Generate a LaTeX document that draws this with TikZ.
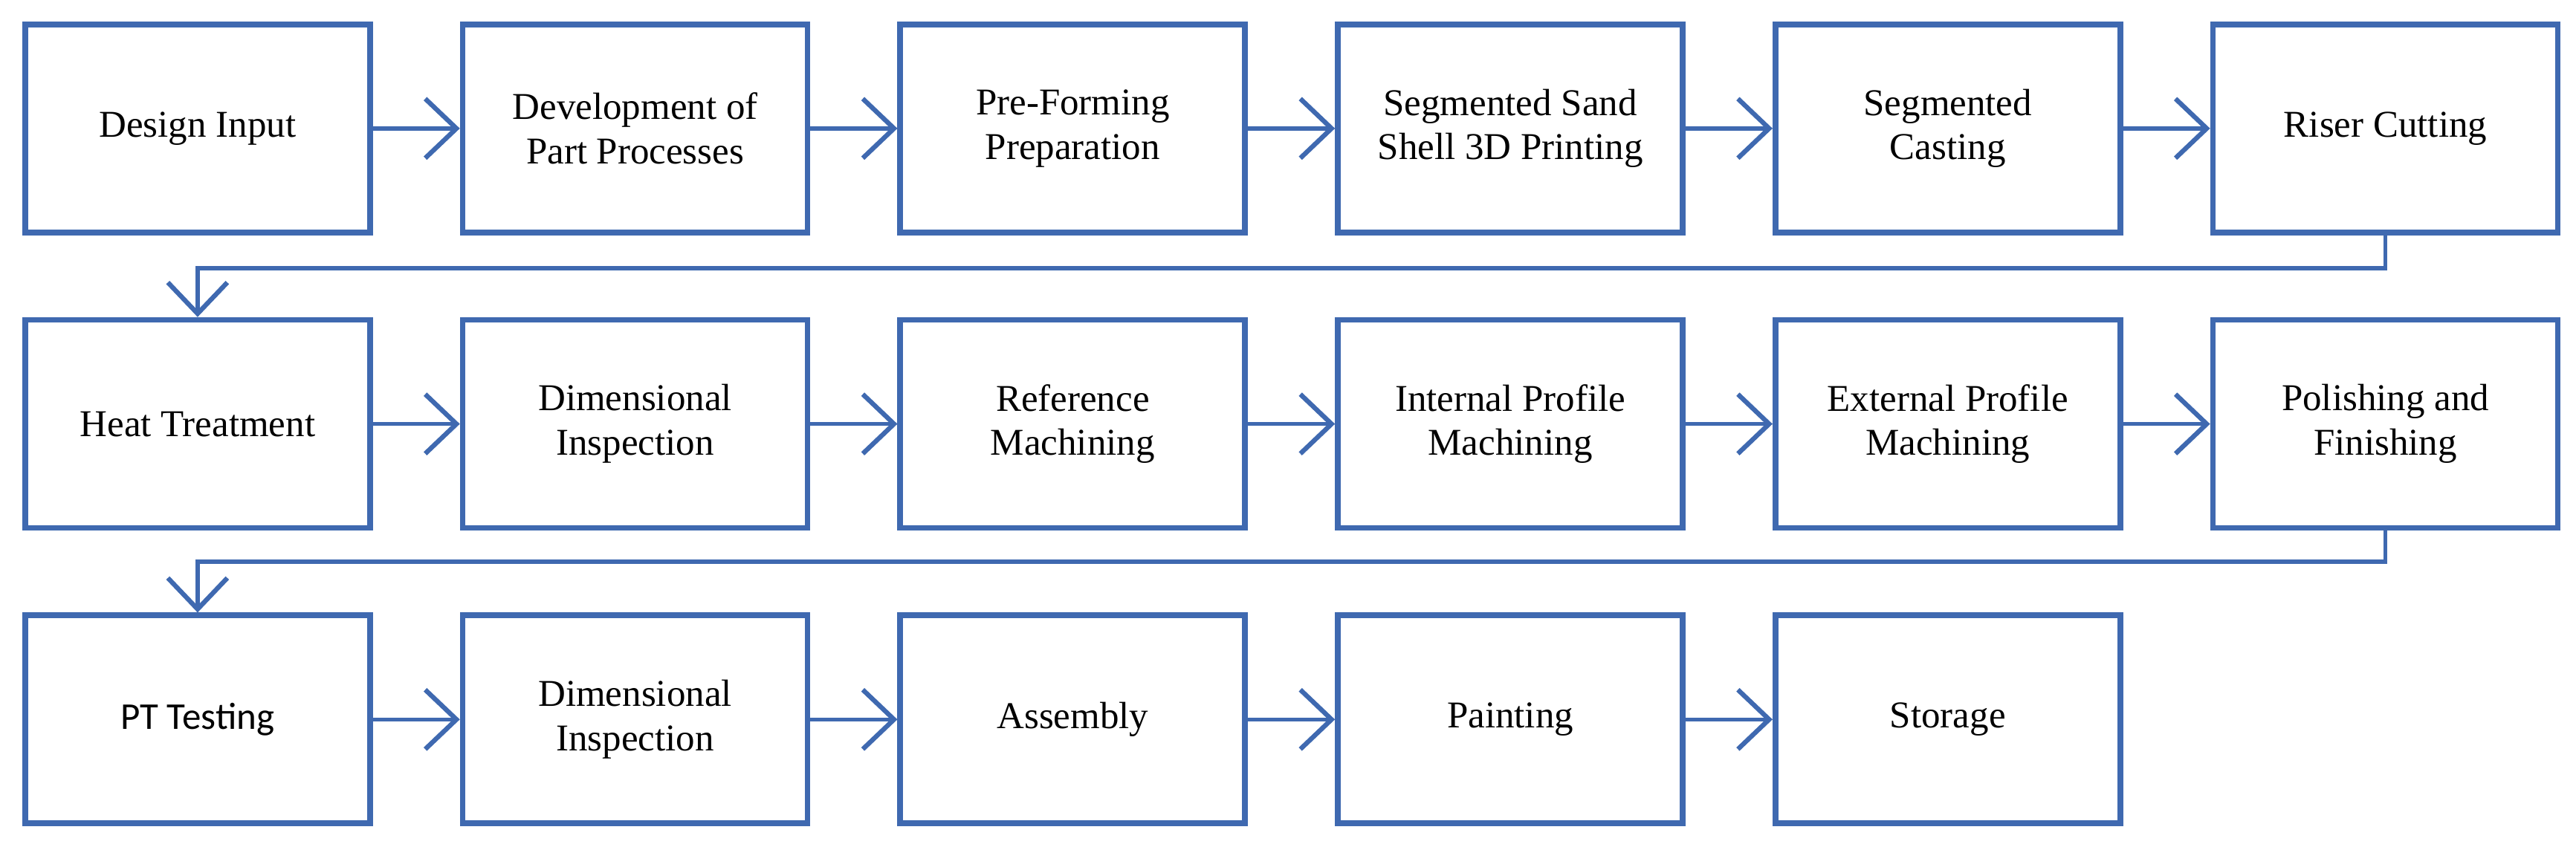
\documentclass[tikz,border=0pt]{standalone}
\usepackage{fontspec}
\setmainfont{Liberation Serif}
\newfontfamily\sansfont{Carlito}
\usetikzlibrary{positioning}
\usetikzlibrary{arrows.meta}
\definecolor{boxblue}{HTML}{3F69B0}
\begin{document}
\begin{tikzpicture}
  [
  % 枠線と文字
  every node/.style={font=\fontsize{14.5}{17}\selectfont, align=center},
  % 矢印の設定
  arrow/.style={-{Straight Barb[length=0.42cm, width=0.8cm, line width=1.8pt]},
  draw=boxblue, line width=1.6pt},
  % ブロック
  block/.style={rectangle, draw=boxblue, line width=2.2pt,
  minimum height=2.8cm, minimum width=4.64cm, inner sep=0.1cm},
  node distance=1.1cm and 1.17cm
  ]
  \useasboundingbox (0,0) rectangle (34.66,11.39);
  \node [block, anchor=north west] at (0.3,11.1) (a1){Design Input};
  \node [block, right=of a1] (a2){Development of\\Part Processes};
  \node [block, right=of a2] (a3){Pre-Forming\\Preparation};
  \node [block, right=of a3] (a4){Segmented Sand\\Shell 3D Printing};
  \node [block, right=of a4] (a5){Segmented\\Casting};
  \node [block, right=of a5] (a6){Riser Cutting};
  \node [block, below=of a1] (b1){Heat Treatment};
  \node [block, right=of b1] (b2){Dimensional\\Inspection};
  \node [block, right=of b2] (b3){Reference\\Machining};
  \node [block, right=of b3] (b4){Internal Profile\\Machining};
  \node [block, right=of b4] (b5){External Profile\\Machining};
  \node [block, right=of b5] (b6){Polishing and\\Finishing};
  \node [block, below=of b1] (c1){\sansfont PT Testing};
  \node [block, right=of c1] (c2){Dimensional\\Inspection};
  \node [block, right=of c2] (c3){Assembly};
  \node [block, right=of c3] (c4){Painting};
  \node [block, right=of c4] (c5){Storage};
  \foreach \r/\n in {a/6, b/6, c/5}{
    \foreach \i [remember=\i as \j (initially 1)] in {2,...,\n}{
      \draw[arrow] (\r\j) -- (\r\i);
    }
  }
  % 折り返し
  \draw[arrow] (a6.south) -- (a6.south |- 0,7.78) -| (b1.north);
  \draw[arrow] (b6.south) -- (b6.south |- 0,3.83) -| (c1.north);
\end{tikzpicture}
\end{document}
